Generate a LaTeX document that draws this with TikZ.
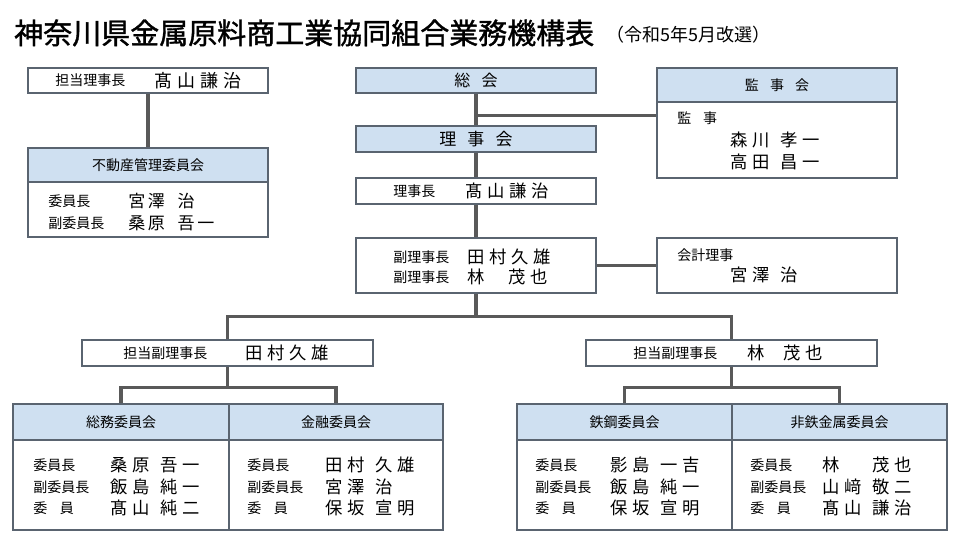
\documentclass[tikz,border=0pt]{standalone}
\usepackage{fontspec}
\setmainfont{Noto Sans CJK JP}
\newfontfamily\ttlf[FakeBold=1.2]{Noto Sans CJK JP}
\newfontfamily\nmf[LetterSpace=28]{Noto Sans CJK JP}
\newfontfamily\nmg[LetterSpace=16]{Noto Sans CJK JP}
\usetikzlibrary{fit}
\definecolor{connGray}{HTML}{595959}
\definecolor{boxGray}{HTML}{5A6470}
\definecolor{headBlue}{HTML}{CFE0F1}
\tikzset{
  box/.style={draw=boxGray, line width=0.8pt, inner sep=0pt, fill=white},
  headbox/.style={box, fill=headBlue},
  headtxt/.style={inner sep=0pt, font=\fontsize{10.5}{12}\selectfont},
  conn/.style={draw=connGray, line width=2.6pt, line join=miter},
  lbl/.style={anchor=west, inner sep=0pt, font=\fontsize{10.5}{12}\selectfont},
  nm/.style={anchor=west, inner sep=0pt, font=\fontsize{13}{15}\nmf},
  nmsmall/.style={anchor=west, inner sep=0pt, font=\fontsize{12.75}{15}\nmg},
}
\newcommand\gp{\hspace{0.6em}}
\begin{document}
\begin{tikzpicture}[x=0.75pt,y=-0.75pt]
\path[use as bounding box, fill=white] (0,0) rectangle (960,540);

% title
\node[anchor=west, inner sep=0pt, font=\fontsize{21.75}{24}\ttlf] (title) at (14,33) {神奈川県金属原料商工業協同組合業務機構表};
\node[anchor=west, inner sep=0pt, font=\fontsize{13.5}{15}\selectfont] (subtitle) at (606,34.5) {（令和5年5月改選）};

% left top
\node[box, fit={(28,68) (268,93)}] (tanto) {};
\node[lbl] (tantoL1) at (55,80.5) {担当理事長};
\node[nm, font=\fontsize{13.5}{15}\nmf] (tantoN1) at (154,80.5) {髙山謙治};
\node[headbox, fit={(28,148) (268,182)}] (fudoh) {};
\node[headtxt] (fudoT) at (fudoh.center) {不動産管理委員会};
\node[box, fit={(28,182) (268,237)}] (fudob) {};
\node[lbl] (fudoL1) at (48,201) {委員長};
\node[nmsmall] (fudoN1) at (128,201) {宮澤\hspace{0.75em}治};
\node[lbl] (fudoL2) at (48,223) {副委員長};
\node[nmsmall] (fudoN2) at (128,223) {桑原\hspace{0.75em}吾一};

% center column
\node[headbox, fit={(356,68) (596,93)}] (soukai) {};
\node[headtxt, font=\fontsize{12}{14}\selectfont] (soukaiT) at (soukai.center) {総\hspace{0.7em}会};
\node[headbox, fit={(356,126) (596,152)}] (rijikai) {};
\node[headtxt, font=\fontsize{12.75}{14}\selectfont] (rijikaiT) at (rijikai.center) {理\hspace{0.65em}事\hspace{0.65em}会};
\node[box, fit={(356,178) (596,204)}] (rijicho) {};
\node[lbl] (rijichoL) at (393,191) {理事長};
\node[nm] (rijichoN) at (465,191) {髙山謙治};
\node[box, fit={(356,238) (596,293)}] (fuku) {};
\node[lbl] (fukuL1) at (393,257) {副理事長};
\node[nm] (fukuN1) at (467,257) {田村久雄};
\node[lbl] (fukuL2) at (393,277) {副理事長};
\node[nm] (fukuN2) at (467,277) {林\hspace{1.35em}茂也};

% right column
\node[headbox, fit={(657,68) (897,102)}] (kanjih) {};
\node[headtxt] (kanjiT) at (kanjih.center) {監\hspace{0.8em}事\hspace{0.8em}会};
\node[box, fit={(657,102) (897,178)}] (kanjib) {};
\node[lbl] (kanjiL) at (677,118) {監\hspace{0.85em}事};
\node[nm] (kanjiN1) at (730,140) {森川\gp 孝一};
\node[nm] (kanjiN2) at (730,162) {高田\gp 昌一};
\node[box, fit={(657,238) (897,293)}] (kaikei) {};
\node[lbl] (kaikeiL) at (677,255) {会計理事};
\node[nm] (kaikeiN) at (730,275) {宮澤\gp 治};

% second level
\node[box, fit={(82,340) (373,366)}] (tantoA) {};
\node[lbl] (tantoAL) at (123,353) {担当副理事長};
\node[nm] (tantoAN) at (245,353) {田村久雄};
\node[box, fit={(586,340) (877,366)}] (tantoB) {};
\node[lbl] (tantoBL) at (633,353) {担当副理事長};
\node[nm] (tantoBN) at (747,353) {林\hspace{1.1em}茂也};

% committees
\node[headbox, fit={(13,404) (229,440)}] (somuh) {};
\node[headtxt] (somuT) at (somuh.center) {総務委員会};
\node[box, fit={(13,440) (229,530)}] (somub) {};
\node[headbox, fit={(229,404) (443,440)}] (kinyuh) {};
\node[headtxt] (kinyuT) at (kinyuh.center) {金融委員会};
\node[box, fit={(229,440) (443,530)}] (kinyub) {};
\node[headbox, fit={(517,404) (732,440)}] (tekkoh) {};
\node[headtxt] (tekkoT) at (tekkoh.center) {鉄鋼委員会};
\node[box, fit={(517,440) (732,530)}] (tekkob) {};
\node[headbox, fit={(732,404) (947,440)}] (hitetsuh) {};
\node[headtxt] (hitetsuT) at (hitetsuh.center) {非鉄金属委員会};
\node[box, fit={(732,440) (947,530)}] (hitetsub) {};

% somu
\node[lbl] (sL1) at (33,465) {委員長};
\node[lbl] (sL2) at (33,487) {副委員長};
\node[lbl] (sL3) at (33,508) {委\hspace{0.9em}員};
\node[nm] (sN1) at (110,465) {桑原\gp 吾一};
\node[nm] (sN2) at (110,487) {飯島\gp 純一};
\node[nm] (sN3) at (110,508) {髙山\gp 純二};
% kinyu
\node[lbl] (kL1) at (247,465) {委員長};
\node[lbl] (kL2) at (247,487) {副委員長};
\node[lbl] (kL3) at (247,508) {委\hspace{0.9em}員};
\node[nm] (kN1) at (325,465) {田村\gp 久雄};
\node[nm] (kN2) at (325,487) {宮澤\gp 治};
\node[nm] (kN3) at (325,508) {保坂\gp 宣明};
% tekko
\node[lbl] (tL1) at (535,465) {委員長};
\node[lbl] (tL2) at (535,487) {副委員長};
\node[lbl] (tL3) at (535,508) {委\hspace{0.9em}員};
\node[nm] (tN1) at (610,465) {影島\gp 一吉};
\node[nm] (tN2) at (610,487) {飯島\gp 純一};
\node[nm] (tN3) at (610,508) {保坂\gp 宣明};
% hitetsu
\node[lbl] (hL1) at (750,465) {委員長};
\node[lbl] (hL2) at (750,487) {副委員長};
\node[lbl] (hL3) at (750,508) {委\hspace{0.9em}員};
\node[nm] (hN1) at (822,465) {林\hspace{1.9em}茂也};
\node[nm] (hN2) at (822,487) {山﨑\gp 敬二};
\node[nm] (hN3) at (822,508) {髙山\gp 謙治};

% connectors
\draw[conn] (tanto.south) -- (fudoh.north);
\draw[conn] (soukai.south) -- (rijikai.north);
\path (soukai.south) ++(0,22) coordinate (j1);
\draw[conn] (j1) -- (j1 -| kanjib.west);
\draw[conn] (rijikai.south) -- (rijicho.north);
\draw[conn] (rijicho.south) -- (fuku.north);
\draw[conn] (fuku.east) -- (kaikei.west);
\path (fuku.south) ++(0,23) coordinate (jm);
\draw[conn] (fuku.south) -- (jm);
\draw[conn] (tantoA.north) |- (jm) -| (tantoB.north);
\path (tantoA.south) ++(0,21) coordinate (jA);
\draw[conn] (tantoA.south) -- (jA);
\draw[conn] (somuh.north) |- (jA) -| (kinyuh.north);
\path (tantoB.south) ++(0,21) coordinate (jB);
\draw[conn] (tantoB.south) -- (jB);
\draw[conn] (tekkoh.north) |- (jB) -| (hitetsuh.north);
\end{tikzpicture}
\end{document}
